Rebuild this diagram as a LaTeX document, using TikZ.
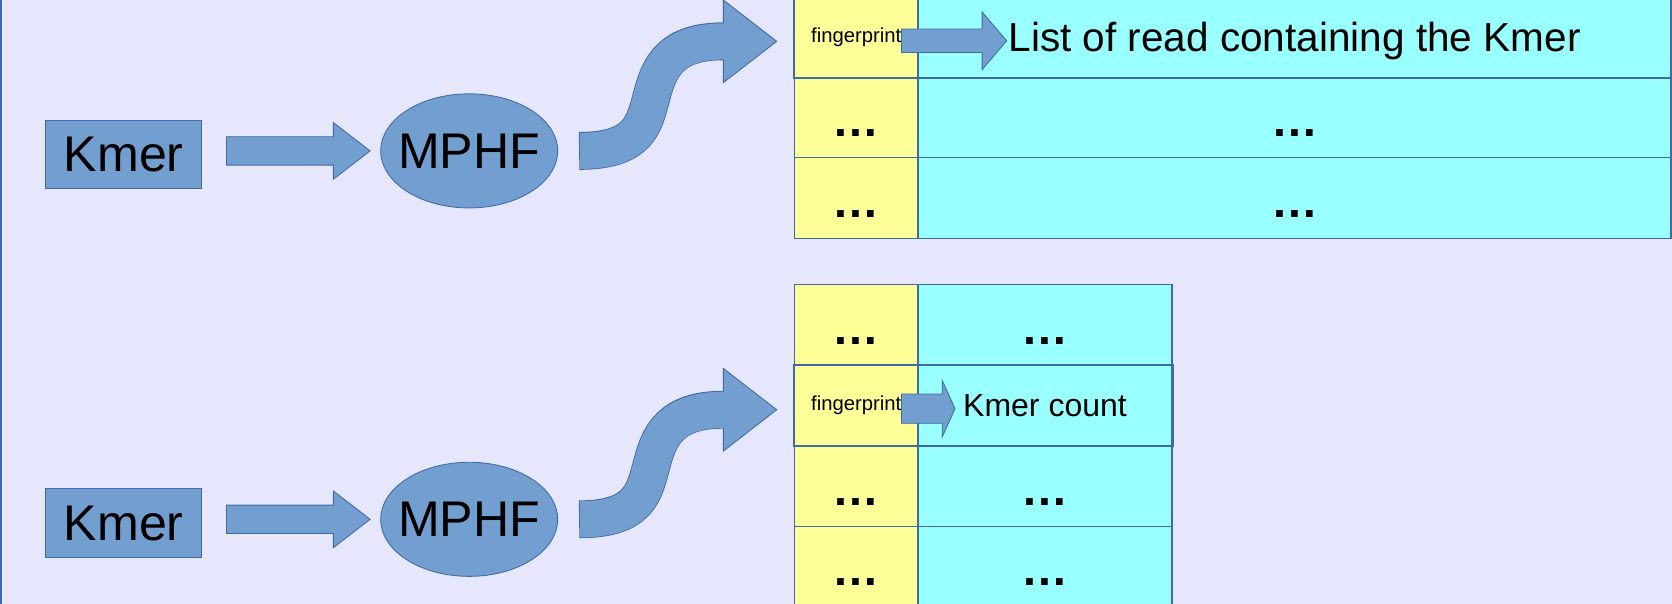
\documentclass[tikz,border=0pt]{standalone}
\usepackage{fontspec}
\setmainfont{Liberation Sans}
\usetikzlibrary{calc,shapes.geometric}

\definecolor{slidebg}{RGB}{230,230,252}
\definecolor{blockfill}{RGB}{114,159,207}
\definecolor{blockline}{RGB}{62,107,168}
\definecolor{keyfill}{RGB}{255,255,153}
\definecolor{valfill}{RGB}{153,255,255}

\tikzset{
	block/.style={fill=blockfill,draw=blockline,line width=0.8pt},
	kmerbox/.style={block,rectangle,minimum width=146pt,minimum height=64pt,inner sep=0pt,font=\fontsize{47}{50}\selectfont},
	hashbox/.style={block,ellipse,minimum width=166pt,minimum height=107pt,inner sep=0pt,font=\fontsize{47}{50}\selectfont},
	cell/.style={draw=blockline,line width=1.2pt,minimum height=75.5pt,inner sep=0pt,text height=36pt,text depth=0pt,font=\fontsize{44}{44}\selectfont\bfseries},
	keycell/.style={cell,fill=keyfill,minimum width=116pt},
	valcell/.style={cell,fill=valfill},
	hilite/.style={draw=blockline,line width=2pt},
	fptext/.style={inner sep=0pt,font=\fontsize{19}{19}\selectfont},
	valtext/.style={inner sep=0pt,text depth=0pt}
}

\newcommand{\blockarr}[5]{%
	\draw[block] ($(#1)+(0,#3)$) -- ($(#2)+(-#5,#3)$) -- ($(#2)+(-#5,#4)$) -- (#2)
		-- ($(#2)+(-#5,-#4)$) -- ($(#2)+(-#5,-#3)$) -- ($(#1)+(0,-#3)$) -- cycle;}

\newcommand{\bendarr}[2]{%
	\coordinate (hb) at ($(#2)+(-50,0)$);
	\draw[blockline,line width=35.5pt,shorten <=-0.8pt]
		(#1) .. controls +(57,0) and +(-7,25) .. ($(#1)!.5!(hb)$) .. controls +(7,-28) and +(-49,0) .. (hb);
	\draw[block] ($(hb)+(0,-38.7)$) -- (#2) -- ($(hb)+(0,38.7)$) -- cycle;
	\draw[blockfill,line width=33.9pt,shorten >=-2pt]
		(#1) .. controls +(57,0) and +(-7,25) .. ($(#1)!.5!(hb)$) .. controls +(7,-28) and +(-49,0) .. (hb);}

\begin{document}
\begin{tikzpicture}[x=1pt,y=-1pt]
	\useasboundingbox (0,0) rectangle (1568,566);
	\fill[slidebg] (0,0) rectangle (1568,566);
	\draw[blockline,line width=1.5pt] (0.75,0) -- (0.75,566);
	\foreach \row in {1,2,3}{
		\node[keycell] (t1k\row) at (803,{-3+(\row-0.5)*75.5}) {\ifnum\row>1 …\fi};
		\node[valcell,minimum width=706pt] (t1v\row) at (1214,{-3+(\row-0.5)*75.5}) {\ifnum\row>1 …\fi};
	}
	\foreach \row in {1,2,3,4}{
		\node[keycell] (t2k\row) at (803,{267+(\row-0.5)*75.5}) {\ifnum\row=2 \else …\fi};
		\node[valcell,minimum width=238pt] (t2v\row) at (980,{267+(\row-0.5)*75.5}) {\ifnum\row=2 \else …\fi};
	}
	\draw[hilite] (t1k1.north west) rectangle (t1v1.south east);
	\draw[hilite] (t2k2.north west) rectangle (t2v2.south east);
	\node[fptext] (fp1) at (t1k1) {fingerprint};
	\node[valtext,font=\fontsize{38}{38}\selectfont,text height=27.4pt] (val1) at (t1v1) {List of read containing the Kmer};
	\node[fptext] (fp2) at (t2k2) {fingerprint};
	\node[valtext,font=\fontsize{30}{30}\selectfont,text height=21.6pt] (val2) at (t2v2) {Kmer count};
	\coordinate (a1) at ($(fp1.east)+(0,3.5)$);
	\coordinate (b1) at ($(val1.west)+(-1.5,3.5)$);
	\blockarr{a1}{b1}{11}{27}{23}
	\coordinate (a2) at ($(fp2.east)+(0,3)$);
	\coordinate (b2) at ($(val2.west)+(-7.5,3)$);
	\blockarr{a2}{b2}{13.7}{26.5}{12}
	\foreach \n/\dy/\fk in {1/0/t1k1,2/345.5/t2k2}{
		\node[kmerbox] (kmer\n) at (116,{145+\dy}) {Kmer};
		\node[hashbox] (mphf\n) at (440,{141.5+\dy}) {\makebox[0pt]{MPHF}};
		\coordinate (s\n) at ($(kmer\n.east |- mphf\n.center)+(23,0)$);
		\coordinate (e\n) at ($(mphf\n.west)+(-9.5,0)$);
		\blockarr{s\n}{e\n}{13.3}{26.6}{34.5}
		\coordinate (c\n) at ($(mphf\n.east)+(20.5,0)$);
		\coordinate (d\n) at ($(\fk.west)+(-16,4)$);
		\bendarr{c\n}{d\n}
	}
\end{tikzpicture}
\end{document}
